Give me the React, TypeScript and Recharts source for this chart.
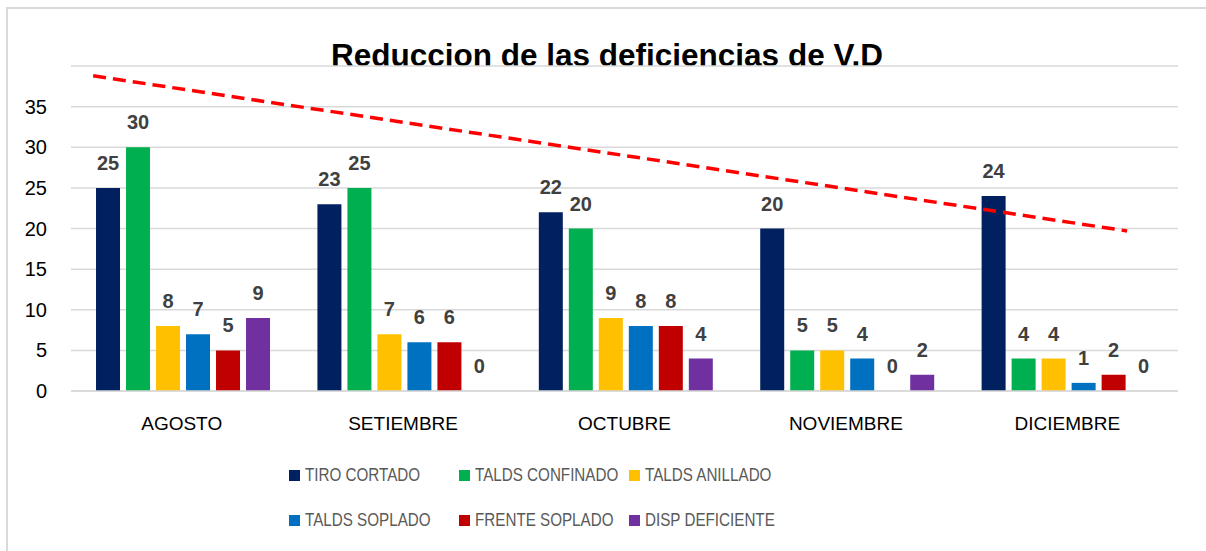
import React from 'react';
import {
  ComposedChart,
  Bar,
  Scatter,
  XAxis,
  YAxis,
  CartesianGrid,
  LabelList
} from 'recharts';

const months = ['AGOSTO', 'SETIEMBRE', 'OCTUBRE', 'NOVIEMBRE', 'DICIEMBRE'];

const tiroCortado = [25, 23, 22, 20, 24];
const taldsConfinado = [30, 25, 20, 5, 4];
const taldsAnillado = [8, 7, 9, 5, 4];
const taldsSoplado = [7, 6, 8, 4, 1];
const frenteSoplado = [5, 6, 8, 0, 2];
const dispDeficiente = [9, 0, 4, 2, 0];

// red dashed trend, positions in category units (0 = left edge of plot)
const trendX = [0.1, 4.77];
const trendY = [38.8, 19.7];

const yTicks = [0, 5, 10, 15, 20, 25, 30, 35];

const series = [
  { key: 'tiro', label: 'TIRO CORTADO', color: '#002060', values: tiroCortado },
  { key: 'confinado', label: 'TALDS CONFINADO', color: '#00B050', values: taldsConfinado },
  { key: 'anillado', label: 'TALDS ANILLADO', color: '#FFC000', values: taldsAnillado },
  { key: 'soplado', label: 'TALDS SOPLADO', color: '#0070C0', values: taldsSoplado },
  { key: 'frente', label: 'FRENTE SOPLADO', color: '#C00000', values: frenteSoplado },
  { key: 'disp', label: 'DISP DEFICIENTE', color: '#7030A0', values: dispDeficiente }
];

const data = months.map((m, i) => {
  const row: { [k: string]: string | number } = { name: m };
  series.forEach(s => {
    row[s.key] = s.values[i];
  });
  return row;
});

const trendData = trendX.map((x, i) => ({ x, y: trendY[i] }));

const font = "'Liberation Sans', Arial, sans-serif";

function ValueLabel(props: any) {
  const { x, y, width, value } = props;
  if (value === undefined || value === null) return null;
  return (
    <text
      x={x + width / 2}
      y={y - 18}
      textAnchor="middle"
      fill="#404040"
      fontSize={20}
      fontWeight="bold"
      fontFamily={font}
    >
      {value}
    </text>
  );
}

function LegendBlock() {
  return (
    <div
      style={{
        position: 'absolute',
        left: 289,
        top: 464,
        width: 520,
        display: 'grid',
        gridTemplateColumns: '170px 170px 170px',
        rowGap: 23,
        fontFamily: font,
        fontSize: 19,
        color: '#595959'
      }}
    >
      {series.map(s => (
        <div key={s.key} style={{ display: 'flex', alignItems: 'center', height: 22, whiteSpace: 'nowrap' }}>
          <span
            style={{ width: 11, height: 11, flexShrink: 0, background: s.color, marginRight: 5, display: 'inline-block' }}
          />
          <span style={{ display: 'inline-block', transform: 'scaleX(0.8)', transformOrigin: 'left center' }}>
            {s.label}
          </span>
        </div>
      ))}
    </div>
  );
}

export default function App() {
  return (
    <div style={{ position: 'absolute', left: 0, top: 0, width: 1206, height: 551, background: '#fff', overflow: 'hidden' }}>
      <div
        style={{
          position: 'absolute',
          left: 6,
          top: 7,
          width: 1200,
          height: 544,
          borderTop: '2px solid #d9d9d9',
          borderLeft: '2px solid #d9d9d9'
        }}
      />
      <div
        style={{
          position: 'absolute',
          top: 37,
          left: 0,
          width: 1214,
          textAlign: 'center',
          fontFamily: font,
          fontWeight: 'bold',
          fontSize: 31.5,
          color: '#000'
        }}
      >
        Reduccion de las deficiencias de V.D
      </div>
      <div style={{ position: 'absolute', left: 0, top: 0 }}>
        <ComposedChart
          width={1206}
          height={551}
          data={data}
          margin={{ top: 66, right: 28, bottom: 130, left: 0 }}
          barCategoryGap="11.3%"
          barGap={6}
        >
          <CartesianGrid vertical={false} stroke="#d9d9d9" strokeWidth={1.5} />
          <XAxis
            xAxisId="cat"
            dataKey="name"
            axisLine={{ stroke: '#d9d9d9', strokeWidth: 1.5 }}
            tickLine={false}
            tickMargin={20}
            tick={{ fill: '#000', fontSize: 19, fontFamily: font }}
            interval={0}
          />
          <XAxis xAxisId="trend" type="number" dataKey="x" domain={[0, 5]} hide />
          <YAxis
            width={71}
            domain={[0, 40]}
            ticks={yTicks}
            axisLine={false}
            tickLine={false}
            tickSize={0}
            tickMargin={24}
            tick={{ fill: '#000', fontSize: 20, fontFamily: font }}
          />
          {series.map(s => (
            <Bar
              key={s.key}
              xAxisId="cat"
              dataKey={s.key}
              fill={s.color}
              minPointSize={(v: number) => (v === 0 ? 0.01 : 0)}
              isAnimationActive={false}
            >
              <LabelList dataKey={s.key} content={ValueLabel} />
            </Bar>
          ))}
          <Scatter
            xAxisId="trend"
            data={trendData}
            dataKey="y"
            line={{ stroke: '#FF0000', strokeWidth: 3.5, strokeDasharray: '13 7' }}
            shape={() => null}
            isAnimationActive={false}
          />
        </ComposedChart>
      </div>
      <LegendBlock />
    </div>
  );
}
